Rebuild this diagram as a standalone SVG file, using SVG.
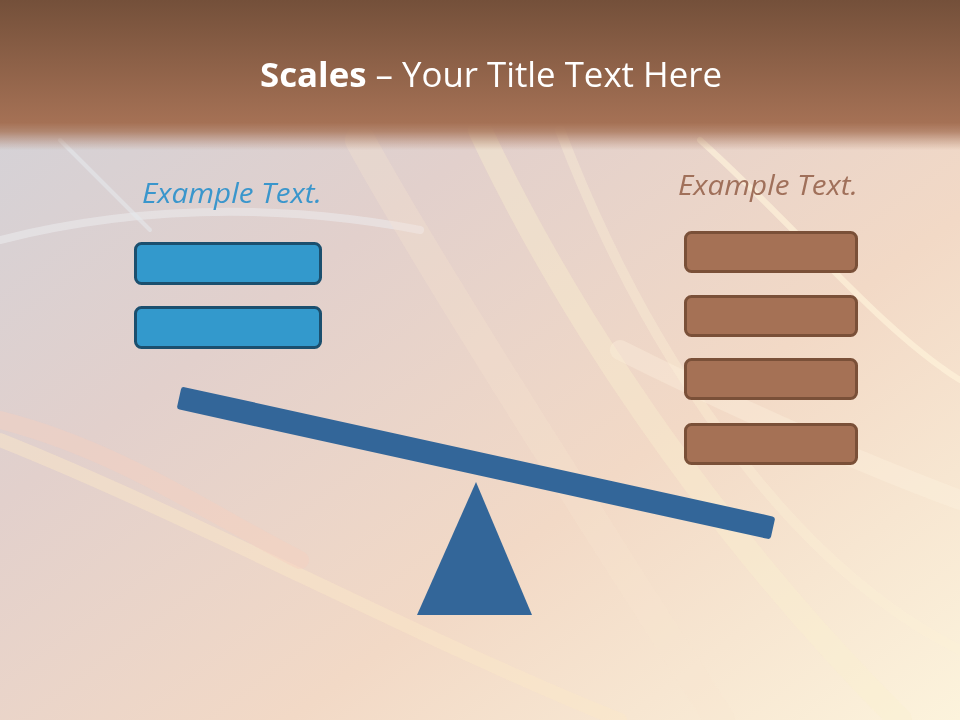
<svg xmlns="http://www.w3.org/2000/svg" width="960" height="720" viewBox="0 0 960 720">
<defs>
<linearGradient id="bg" x1="0" y1="0" x2="1" y2="1">
<stop offset="0" stop-color="#d0d2da"/>
<stop offset="0.35" stop-color="#e2d0cc"/>
<stop offset="0.65" stop-color="#f2d9c6"/>
<stop offset="1" stop-color="#fcf3dc"/>
</linearGradient>
<linearGradient id="hdr" x1="0" y1="0" x2="0" y2="1">
<stop offset="0" stop-color="#74503a"/>
<stop offset="0.82" stop-color="#a57155"/>
<stop offset="0.88" stop-color="#a87458" stop-opacity="0.8"/>
<stop offset="1" stop-color="#b08068" stop-opacity="0"/>
</linearGradient>
<style>
.lbl{font-family:"Open Sans","Liberation Sans",sans-serif;font-style:italic;font-size:27.5px}
.bx-b{fill:#3399cc;stroke:#1b4f6e;stroke-width:3}
.bx-r{fill:#a57155;stroke:#7a5038;stroke-width:3}
.sw{fill:none;stroke-linecap:round}
</style>
</defs>
<rect width="960" height="720" fill="url(#bg)"/>
<g id="swooshes" opacity="0.8">
<path class="sw" d="M0 440 C200 520 420 640 620 720" stroke="#fbe8c8" stroke-width="14" opacity="0.6"/>
<path class="sw" d="M0 420 C120 450 220 520 300 560" stroke="#f8cfc0" stroke-width="18" opacity="0.5"/>
<path class="sw" d="M480 130 C560 300 700 520 900 720" stroke="#fbf0d0" stroke-width="24" opacity="0.5"/>
<path class="sw" d="M560 130 C640 340 780 560 960 650" stroke="#fdf2d6" stroke-width="10" opacity="0.45"/>
<path class="sw" d="M700 140 C800 230 880 330 960 380" stroke="#fff4dc" stroke-width="6" opacity="0.8"/>
<path class="sw" d="M620 350 C760 420 880 470 960 500" stroke="#fff6e0" stroke-width="20" opacity="0.4"/>
<path class="sw" d="M0 240 C120 210 260 200 420 230" stroke="#eef0f4" stroke-width="8" opacity="0.6"/>
<path class="sw" d="M60 140 C90 170 120 200 150 230" stroke="#e8eef4" stroke-width="4" opacity="0.6"/>
<path class="sw" d="M360 140 C420 250 560 470 720 720" stroke="#f8e6d0" stroke-width="30" opacity="0.35"/>
</g>
<rect width="960" height="150" fill="url(#hdr)"/>
<g id="title">
<text x="260" y="87" textLength="462" lengthAdjust="spacingAndGlyphs" fill="#ffffff" font-family="'Open Sans','Liberation Sans',sans-serif" font-size="34"><tspan font-weight="bold">Scales</tspan> – Your Title Text Here</text>
</g>
<g id="left-label"><text class="lbl" x="142" y="203" textLength="180" lengthAdjust="spacingAndGlyphs" fill="#3a96cc">Example Text.</text></g>
<g id="right-label"><text class="lbl" x="678" y="195" textLength="180" lengthAdjust="spacingAndGlyphs" fill="#a0705a">Example Text.</text></g>
<g id="left-box-1"><rect class="bx-b" x="135.5" y="243.5" width="185" height="40" rx="6"/></g>
<g id="left-box-2"><rect class="bx-b" x="135.5" y="307.5" width="185" height="40" rx="6"/></g>
<g id="right-box-1"><rect class="bx-r" x="685.5" y="232.5" width="171" height="39" rx="6"/></g>
<g id="right-box-2"><rect class="bx-r" x="685.5" y="296.5" width="171" height="39" rx="6"/></g>
<g id="right-box-3"><rect class="bx-r" x="685.5" y="359.5" width="171" height="39" rx="6"/></g>
<g id="right-box-4"><rect class="bx-r" x="685.5" y="424.5" width="171" height="39" rx="6"/></g>
<g id="connectors"></g>
<g id="fulcrum"><polygon points="476,482 417,615 532,615" fill="#336699"/></g>
<g id="beam"><rect x="-304" y="-11.5" width="608" height="23" rx="3" fill="#336699" transform="translate(476,463) rotate(12.4)"/></g>
</svg>
